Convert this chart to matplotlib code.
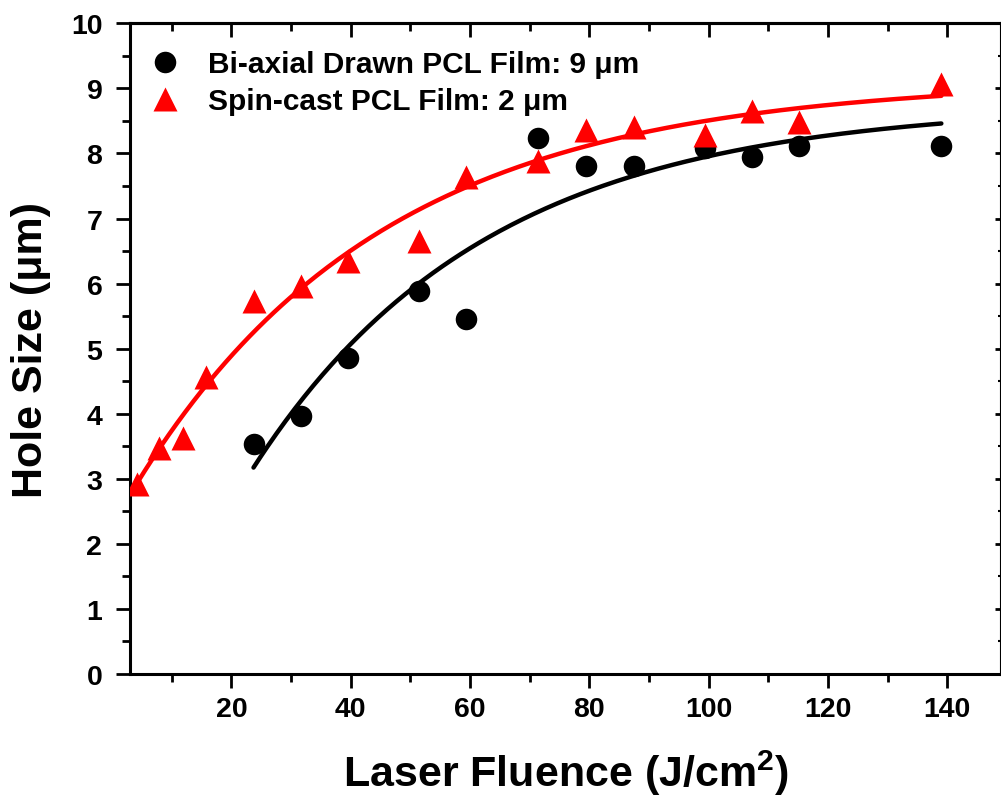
import numpy as np
import matplotlib
matplotlib.use("Agg")
import matplotlib.pyplot as plt
from matplotlib.ticker import MultipleLocator

plt.rcParams['font.family'] = ['Liberation Sans', 'DejaVu Sans']
plt.rcParams['font.weight'] = 'bold'
plt.rcParams['mathtext.fontset'] = 'custom'
plt.rcParams['mathtext.rm'] = 'Liberation Sans:bold'
plt.rcParams['mathtext.bf'] = 'Liberation Sans:bold'

# Bi-axial drawn PCL film (9 um)
fluence_biax = [23.7, 31.6, 39.6, 51.5, 59.4, 71.4, 79.5, 87.4, 99.4, 107.3, 115.2, 139.0]
hole_biax = [3.53, 3.97, 4.85, 5.88, 5.45, 8.24, 7.80, 7.80, 8.09, 7.95, 8.12, 8.12]

# Spin-cast PCL film (2 um)
fluence_spin = [4.1, 7.8, 11.8, 15.8, 23.7, 31.7, 39.6, 51.5, 59.4, 71.4, 79.5, 87.4,
                99.4, 107.3, 115.2, 139.0]
hole_spin = [2.92, 3.48, 3.62, 4.56, 5.74, 5.96, 6.34, 6.66, 7.64, 7.89, 8.36, 8.40,
             8.28, 8.65, 8.49, 9.07]


def exp_fit(x, y):
    # y = A - B*exp(-x/t); scan t, solve A, B by linear least squares
    x = np.asarray(x, float)
    y = np.asarray(y, float)
    best = None
    for t in np.linspace(5, 200, 3901):
        M = np.column_stack([np.ones_like(x), -np.exp(-x / t)])
        coef, *_ = np.linalg.lstsq(M, y, rcond=None)
        err = np.sum((M @ coef - y) ** 2)
        if best is None or err < best[0]:
            best = (err, coef[0], coef[1], t)
    _, A, B, t = best
    xs = np.linspace(x.min(), x.max(), 300)
    return xs, A - B * np.exp(-xs / t)


fig = plt.figure(figsize=(10.01, 8.03), dpi=100)
ax = fig.add_axes([0.1299, 0.1594, 0.8701, 0.8103])

xs, ys = exp_fit(fluence_biax, hole_biax)
ax.plot(xs, ys, color='black', lw=3.2, solid_capstyle='round', zorder=2)
xs, ys = exp_fit(fluence_spin, hole_spin)
ax.plot(xs, ys, color='red', lw=3.2, solid_capstyle='round', zorder=2)

ax.plot(fluence_biax, hole_biax, 'o', color='black', ms=15.5, mec='none', zorder=3,
        label='Bi-axial Drawn PCL Film: 9 \u03bcm')
ax.plot(fluence_spin, hole_spin, '^', color='red', ms=17.5, mec='none', zorder=3,
        label='Spin-cast PCL Film: 2 \u03bcm')

ax.set_xlim(3, 149)
ax.set_ylim(0, 10)
ax.xaxis.set_major_locator(MultipleLocator(20))
ax.xaxis.set_minor_locator(MultipleLocator(10))
ax.yaxis.set_major_locator(MultipleLocator(1))
ax.yaxis.set_minor_locator(MultipleLocator(0.5))

for sp in ax.spines.values():
    sp.set_linewidth(2.2)
ax.tick_params(which='major', direction='out', length=10, width=2, labelsize=20.5)
ax.tick_params(which='minor', direction='out', length=5.5, width=2)
ax.tick_params(axis='x', pad=6)
ax.tick_params(axis='y', pad=10)
for lab in ax.get_xticklabels() + ax.get_yticklabels():
    lab.set_fontweight('bold')

# top and right ticks point inward
top = ax.secondary_xaxis('top')
top.xaxis.set_major_locator(MultipleLocator(20))
top.xaxis.set_minor_locator(MultipleLocator(10))
top.tick_params(which='major', direction='in', length=10, width=2, labeltop=False)
top.tick_params(which='minor', direction='in', length=5.5, width=2)
top.spines['top'].set_linewidth(2.2)
right = ax.secondary_yaxis('right')
right.yaxis.set_major_locator(MultipleLocator(1))
right.yaxis.set_minor_locator(MultipleLocator(0.5))
right.tick_params(which='major', direction='in', length=4, width=2, labelright=False)
right.tick_params(which='minor', direction='in', length=2, width=1.5)
right.spines['right'].set_linewidth(2.2)

ax.set_xlabel('Laser Fluence (J/cm$^2$)', fontsize=31, fontweight='bold', labelpad=18)
ax.set_ylabel('Hole Size (\u03bcm)', fontsize=31, fontweight='bold', labelpad=14)

ax.legend(loc='upper left', bbox_to_anchor=(0.0, 0.986), frameon=False,
          prop={'size': 21.5, 'weight': 'bold'}, handletextpad=0.85,
          labelspacing=0.3, borderaxespad=0.2, handlelength=1.15, numpoints=1)

fig.savefig('out.png', dpi=100)
